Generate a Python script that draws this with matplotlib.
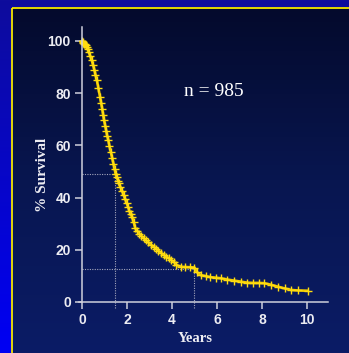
import numpy as np
import matplotlib
matplotlib.use("Agg")
import matplotlib.pyplot as plt
from matplotlib.patches import Rectangle

# Kaplan-Meier style survival curve
years = [0, 0.03, 0.06, 0.1, 0.13, 0.17, 0.21, 0.25, 0.3, 0.36, 0.43, 0.49,
         0.55, 0.6, 0.66, 0.73, 0.8, 0.85, 0.9, 0.94, 0.98, 1.03, 1.08,
         1.12, 1.17, 1.22, 1.28, 1.34, 1.40, 1.45, 1.50, 1.55, 1.60, 1.65,
         1.70, 1.78, 1.85, 1.92, 1.99, 2.05, 2.1, 2.16, 2.22, 2.3, 2.37,
         2.46, 2.55, 2.64, 2.74, 2.85, 2.95, 3.06, 3.18, 3.3, 3.4, 3.52,
         3.63, 3.75, 3.85, 3.96, 4.08, 4.2, 4.38, 4.6, 4.82, 5.0, 5.1, 5.27,
         5.5, 5.71, 5.95, 6.16, 6.45, 6.75, 7.05, 7.35, 7.6, 7.85, 8.09, 8.4,
         8.69, 9.0, 9.29, 9.6, 10.03]
survival = [100, 99.7, 99.4, 99, 98.7, 98.3, 97.8, 97.1, 95.8, 94.4, 92.7, 90.9,
            89, 87.1, 85, 81.9, 78.7, 76.3, 74, 71.8, 69.7, 67.6, 65.5,
            63.7, 62, 59.8, 57.5, 55.2, 53, 50.9, 48.9, 47.7, 46.5, 45.4,
            44.2, 42.6, 41, 39.4, 37.8, 36.4, 35, 33.8, 32.7, 30.5, 28.2,
            27.2, 26.2, 25.3, 24.4, 23.6, 22.8, 22, 21.2, 20.4, 19.6, 18.8,
            18, 17.4, 16.8, 16.1, 15.4, 14.2, 13.5, 13.4, 13.3, 13.2, 11.5, 10.3,
            9.9, 9.5, 9.3, 9.1, 8.6, 8.2, 7.8, 7.4, 7.3, 7.3, 7.2, 6.6,
            5.9, 5.2, 4.6, 4.4, 4.3]

x_ticks = [0, 2, 4, 6, 8, 10]
y_ticks = [0, 20, 40, 60, 80, 100]

# reference lines: median survival and 5-year survival
median_years, median_surv = 1.47, 49
five_years, five_surv = 4.96, 12.8

W, H = 349, 353
fig = plt.figure(figsize=(W / 100, H / 100), dpi=100)

# slide background: blue outer frame + dark navy panel with yellow border
bg = fig.add_axes([0, 0, 1, 1])
bg.set_xlim(0, W)
bg.set_ylim(H, 0)
bg.axis("off")
grad = np.linspace(0, 1, 256).reshape(-1, 1)
outer_cmap = matplotlib.colors.LinearSegmentedColormap.from_list("outer", ["#0e0c9c", "#0000f4"])
bg.imshow(grad, cmap=outer_cmap, extent=[0, W, H, 0], aspect="auto")
panel_cmap = matplotlib.colors.LinearSegmentedColormap.from_list("panel", ["#040a2c", "#081650", "#0b1c66"])
bg.imshow(grad, cmap=panel_cmap, extent=[11.5, W, H, 7.5], aspect="auto")
bg.add_patch(Rectangle((11.5, 7.5), W, H, fill=False, edgecolor="#f4e600", linewidth=1.3))

ax = fig.add_axes([0.2252, 0.1261, 0.7158, 0.7977])
ax.patch.set_alpha(0)
ax.set_xlim(-0.15, 10.95)
ax.set_ylim(-2.5, 105.4)

line_col = "#cfd0dc"
for side in ["top", "right"]:
    ax.spines[side].set_visible(False)
ax.spines["left"].set_position(("data", 0))
ax.spines["bottom"].set_position(("data", 0))
ax.spines["left"].set_bounds(0, 105.4)
ax.spines["bottom"].set_bounds(-0.15, 10.95)
for side in ["left", "bottom"]:
    ax.spines[side].set_color(line_col)
    ax.spines[side].set_linewidth(1.1)

ax.set_xticks(x_ticks)
ax.set_yticks(y_ticks)
ax.tick_params(colors=line_col, length=5, width=1.1, pad=3)
tick_font = {"family": "Liberation Sans", "weight": "bold", "size": 10}
ax.set_xticklabels([str(t) for t in x_ticks], fontdict=tick_font, color="#ececf2")
ax.set_yticklabels([str(t) for t in y_ticks], fontdict=tick_font, color="#ececf2")

# dotted guide lines
guide = dict(color="#a4a6bc", linestyle=(0, (1, 1.2)), linewidth=0.8, clip_on=False)
ax.plot([0, median_years], [median_surv, median_surv], **guide)
ax.plot([median_years, median_years], [-2.2, median_surv], **guide)
ax.plot([0, five_years], [five_surv, five_surv], **guide)
ax.plot([five_years, five_years], [-2.2, five_surv], **guide)

ax.plot(years, survival, color="#f2cc00", linewidth=1.9, marker="+",
        markersize=5.5, markeredgewidth=1.0, markeredgecolor="#ffdc10")

ax.text(5.85, 80.5, "n = 985", family="Liberation Serif", fontsize=14,
        color="white", ha="center", va="center")

fig.text(43 / W, 1 - 175 / H, "% Survival", family="Liberation Serif", fontweight="bold",
         fontsize=11, color="#ececf2", rotation=90, ha="center", va="center")
fig.text(195 / W, 1 - 339 / H, "Years", family="Liberation Serif", fontweight="bold",
         fontsize=10.5, color="#ececf2", ha="center", va="center")

fig.savefig("out.png", dpi=100, facecolor=fig.get_facecolor())
